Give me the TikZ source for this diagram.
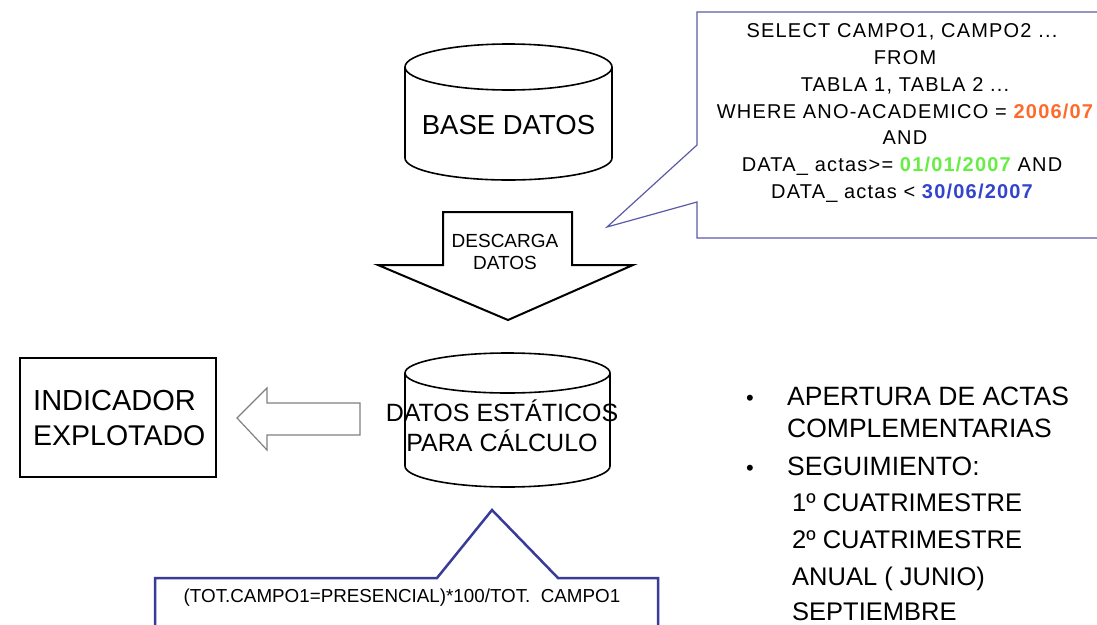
\documentclass[tikz,border=0pt]{standalone}
\usepackage{fontspec}
\setmainfont{Liberation Sans}
\usetikzlibrary{arrows.meta}
\definecolor{calloutblue}{HTML}{5A5AAA}
\definecolor{calloutdark}{HTML}{3A3A98}
\definecolor{fechaorange}{HTML}{FF6A2A}
\definecolor{fechagreen}{HTML}{66EE44}
\definecolor{fechablue}{HTML}{3344CC}
\tikzset{
  dbshape/.style={line width=1.6pt, black},
  bigtext/.style={font=\fontsize{27.5}{32}\selectfont, inner sep=0pt, anchor=base},
  sqltext/.style={font=\fontsize{20}{24}\selectfont\addfontfeature{LetterSpace=6}, inner sep=0pt, anchor=base},
  listtext/.style={font=\fontsize{25.5}{30}\selectfont, inner sep=0pt, anchor=base west},
}

\begin{document}
\begin{tikzpicture}[x=1pt,y=-1pt]
  \useasboundingbox (0,0) rectangle (1097,624);
  % base de datos
  \draw[dbshape] (508.5,67) ellipse (103.5pt and 23pt);
  \draw[dbshape] (405,67) -- (405,158) arc (180:360:103.5pt and 22pt) -- (612,67);
  \node[bigtext] (base) at (508.5,134) {BASE DATOS};
  % flecha de descarga
  \draw[line width=2pt, line join=miter] (443,212) -- (572,212) -- (572,265) -- (633,265)
     -- (508,320) -- (378,265) -- (443,265) -- cycle;
  \node[bigtext, font=\fontsize{19}{22}\selectfont] (descarga) at (505,247.5) {DESCARGA};
  \node[bigtext, font=\fontsize{19}{22}\selectfont] (datos) at (505,269.5) {DATOS};
  % consulta
  \draw[calloutblue, line width=1.2pt] (697,12) -- (1120,12) -- (1120,238) -- (697,238)
     -- (697,202) -- (607,227) -- (697,145) -- cycle;
  \node[sqltext] (q1) at (902,37) {SELECT CAMPO1, CAMPO2 ...};
  \node[sqltext] (q2) at (905,64) {FROM};
  \node[sqltext] (q3) at (905,91) {TABLA 1, TABLA 2 ...};
  \node[sqltext] (q4) at (905,118) {WHERE ANO-ACADEMICO = \textcolor{fechaorange}{\bfseries 2006/07}};
  \node[sqltext] (q5) at (905,144) {AND};
  \node[sqltext] (q6) at (902,171) {DATA\_ actas>= \textcolor{fechagreen}{\bfseries 01/01/2007} AND};
  \node[sqltext] (q7) at (902,198) {DATA\_ actas < \textcolor{fechablue}{\bfseries 30/06/2007}};
  % datos estaticos
  \draw[dbshape] (507.5,373) ellipse (102.5pt and 20pt);
  \draw[dbshape] (405,373) -- (405,466) arc (180:360:102.5pt and 21pt) -- (610,373);
  \node[bigtext, font=\fontsize{25}{30}\selectfont] (estaticos) at (502,421) {DATOS ESTÁTICOS};
  \node[bigtext, font=\fontsize{25}{30}\selectfont] (calculo) at (502,451) {PARA CÁLCULO};
  % indicador
  \draw[line width=2pt] (20,358) rectangle (216,477);
  \node[bigtext, font=\fontsize{29}{34}\selectfont, anchor=base west] (indicador) at (33,410) {INDICADOR};
  \node[bigtext, font=\fontsize{28.5}{34}\selectfont, anchor=base west] (explotado) at (33,445) {EXPLOTADO};
  \draw[gray, line width=1.2pt] (360,403) -- (267,403) -- (267,388) -- (237,418)
     -- (267,450) -- (267,435) -- (360,435) -- cycle;
  % formula
  \draw[calloutdark, line width=2.5pt] (155,640) -- (155,578) -- (437,578) -- (492,510)
     -- (558,578) -- (658,578) -- (658,640);
  \node[bigtext, font=\fontsize{18.8}{22}\selectfont] (formula) at (402,602.5) {(TOT.CAMPO1=PRESENCIAL)*100/TOT.\ \ CAMPO1};
  % lista
  \node[listtext, font=\fontsize{22}{26}\selectfont, anchor=base] (b1) at (750,405) {•};
  \node[listtext, font=\fontsize{26.5}{30}\selectfont] (l1) at (787,405) {APERTURA DE ACTAS};
  \node[listtext, font=\fontsize{26.5}{30}\selectfont] (l2) at (787,437) {COMPLEMENTARIAS};
  \node[listtext, font=\fontsize{22}{26}\selectfont, anchor=base] (b2) at (750,475) {•};
  \node[listtext, font=\fontsize{26.5}{30}\selectfont] (l3) at (787,475) {SEGUIMIENTO:};
  \node[listtext] (l4) at (792,511.5) {1º CUATRIMESTRE};
  \node[listtext] (l5) at (792,548) {2º CUATRIMESTRE};
  \node[listtext] (l6) at (792,585) {ANUAL ( JUNIO)};
  \node[listtext] (l7) at (792,620) {SEPTIEMBRE};
\end{tikzpicture}
\end{document}
